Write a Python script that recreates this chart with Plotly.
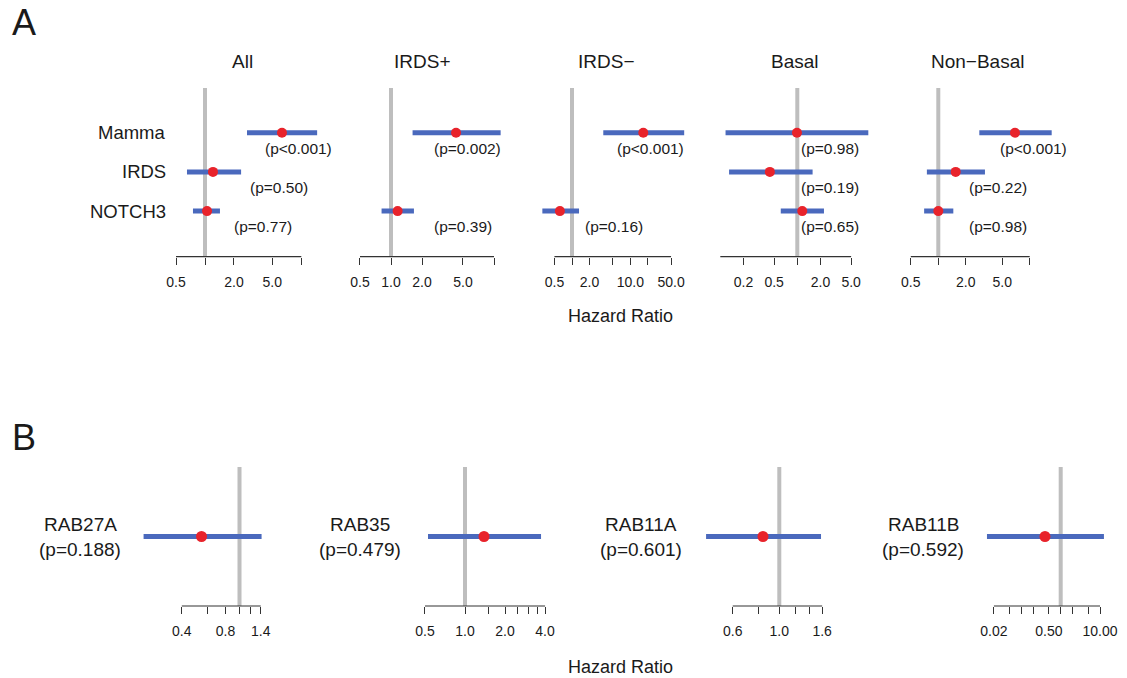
import math
import plotly.graph_objects as go

W, H = 1127, 678

# ---------------- data ----------------
titles_A = ["All", "IRDS+", "IRDS\u2212", "Basal", "Non\u2212Basal"]
genes_A = ["Mamma", "IRDS", "NOTCH3"]
hr_A = [[6.3, 1.21, 1.05], [4.28, None, 1.16], [16.7, None, 0.62], [0.99, 0.44, 1.16], [6.9, 1.55, 1.0]]
lo_A = [[2.73, 0.65, 0.75], [1.62, None, 0.81], [3.44, None, 0.31], [0.117, 0.13, 0.61], [2.81, 0.75, 0.70]]
hi_A = [[14.6, 2.37, 1.43], [11.6, None, 1.67], [84.0, None, 1.32], [8.36, 1.58, 2.22], [17.4, 3.24, 1.46]]
p_A = [["(p<0.001)", "(p=0.50)", "(p=0.77)"],
       ["(p=0.002)", None, "(p=0.39)"],
       ["(p<0.001)", None, "(p=0.16)"],
       ["(p=0.98)", "(p=0.19)", "(p=0.65)"],
       ["(p<0.001)", "(p=0.22)", "(p=0.98)"]]
ticks_A = [[0.5, 1, 2, 5, 10], [0.5, 1, 2, 5, 10], [0.5, 1, 2, 5, 10, 20, 50], [0.2, 0.5, 1, 2, 5], [0.5, 1, 2, 5, 10]]
ticktext_A = [["0.5", "", "2.0", "5.0", ""],
              ["0.5", "1.0", "2.0", "5.0", ""],
              ["0.5", "", "2.0", "", "10.0", "", "50.0"],
              ["0.2", "0.5", "", "2.0", "5.0"],
              ["0.5", "", "2.0", "5.0", ""]]

genes_B = ["RAB27A", "RAB35", "RAB11A", "RAB11B"]
hr_B = [0.547, 1.39, 0.836, 0.398]
lo_B = [0.218, 0.527, 0.448, 0.0133]
hi_B = [1.42, 3.73, 1.58, 12.6]
p_B = ["(p=0.188)", "(p=0.479)", "(p=0.601)", "(p=0.592)"]
ticks_B = [[0.4, 0.6, 0.8, 1.0, 1.2, 1.4],
           [0.5, 1.0, 1.5, 2.0, 2.5, 3.0, 3.5, 4.0],
           [0.6, 0.8, 1.0, 1.2, 1.4, 1.6],
           [0.02, 0.05, 0.1, 0.2, 0.5, 1, 2, 5, 10]]
ticktext_B = [["0.4", "", "0.8", "", "", "1.4"],
              ["0.5", "1.0", "", "2.0", "", "", "", "4.0"],
              ["0.6", "", "1.0", "", "", "1.6"],
              ["0.02", "", "", "", "0.50", "", "", "", "10.00"]]

# ---------------- layout constants (pixels) ----------------
# (pixel of HR=1, pixels per decade, domain left, domain right)
geom_A = [(205, 96.3, 170, 335), (391, 103, 350, 510), (572, 58.3, 530, 695),
          (797.3, 77, 715, 875), (938.3, 91.4, 900, 1060)]
geom_B = [(239.5, 145, 135, 270), (465, 133, 420, 555), (779.3, 210, 700, 830), (1060.7, 39.3, 980, 1110)]
axis_span_A = [(0.5, 10), (0.5, 10), (0.5, 50), (0.1, 5), (0.5, 10)]
pval_x_A = [[3.97, 2.80, 1.91], [2.48, None, 2.48], [5.47, None, 1.54], [1.05, 1.05, 1.05], [4.5, 2.06, 2.06]]
title_x_A = [242, 422, 606, 795, 977]
label_x_B = [80, 360, 641, 923]

A_top, A_axis = 88, 256.7
row0_px, row_step = 132.7, 39.2
B_top, B_axis = 467, 606

BLUE = "#4A69BD"
RED = "#E8232B"
GRAY = "#BEBEBE"
TXT = "#1a1a1a"
FONT = "Liberation Sans, Arial, Helvetica, sans-serif"


def px(x):
    return x / W


def py(y):
    return 1 - y / H


fig = go.Figure()
layout = dict(width=W, height=H, margin=dict(l=0, r=0, t=0, b=0, pad=0, autoexpand=False),
              autosize=False,
              paper_bgcolor="white", plot_bgcolor="white", showlegend=False,
              font=dict(family=FONT, color=TXT))
annotations = []
shapes = []


def add_axes(k, geom, ticks, ticktext, ytop, ybot, yrange):
    one, dec, d0, d1 = geom
    layout[f"xaxis{k}"] = dict(
        type="log", domain=[px(d0), px(d1)],
        range=[(d0 - one) / dec, (d1 - one) / dec],
        tickvals=ticks, ticktext=ticktext, ticks="outside", ticklen=7,
        tickwidth=1.1, tickcolor="#333", showline=False, showgrid=False,
        zeroline=False, tickfont=dict(size=14, color=TXT, family=FONT),
        ticklabelstandoff=5,
        anchor=f"y{k}", fixedrange=True, automargin=False)
    layout[f"yaxis{k}"] = dict(domain=[py(ybot), py(ytop)], range=yrange,
                               visible=False, anchor=f"x{k}", fixedrange=True, automargin=False)


# ---------- Panel A ----------
yr_top = 1 - (row0_px - A_top) / row_step
yr_bot = 1 + (A_axis - row0_px) / row_step
for i in range(5):
    k = i + 1
    add_axes(k, geom_A[i], ticks_A[i], ticktext_A[i], A_top, A_axis, [yr_bot, yr_top])
    xs, ys = [], []
    for j in range(3):
        if hr_A[i][j] is None:
            continue
        v = j + 1
        fig.add_trace(go.Scatter(x=[lo_A[i][j], hi_A[i][j]], y=[v, v], mode="lines",
                                 line=dict(color=BLUE, width=5), xaxis=f"x{k}", yaxis=f"y{k}",
                                 hoverinfo="skip"))
        xs.append(hr_A[i][j]); ys.append(v)
        annotations.append(dict(x=math.log10(pval_x_A[i][j]), y=v + 0.395, xref=f"x{k}", yref=f"y{k}",
                                text=p_A[i][j], showarrow=False, xanchor="left", yanchor="middle",
                                font=dict(size=15.5, color=TXT)))
    fig.add_trace(go.Scatter(x=xs, y=ys, mode="markers", marker=dict(color=RED, size=10),
                             xaxis=f"x{k}", yaxis=f"y{k}", cliponaxis=False))
    annotations.append(dict(x=px(title_x_A[i]), y=py(62), xref="paper", yref="paper", text=titles_A[i],
                            showarrow=False, xanchor="center", yanchor="middle", font=dict(size=19, color=TXT)))
    a0, a1 = axis_span_A[i]
    shapes.append(dict(type="line", xref=f"x{k}", yref="paper", x0=a0, x1=a1, y0=py(A_axis), y1=py(A_axis),
                       line=dict(color="#333", width=1.2)))
    shapes.append(dict(type="line", xref=f"x{k}", yref="paper", x0=1, x1=1, y0=py(A_top), y1=py(A_axis),
                       line=dict(color=GRAY, width=4), layer="below"))

for j, g in enumerate(genes_A):
    annotations.append(dict(x=px(168), y=j + 1, xref="paper", yref="y1", text=g, showarrow=False,
                            xanchor="right", yanchor="middle", font=dict(size=18.5, color=TXT)))

# ---------- Panel B ----------
for i in range(4):
    k = 6 + i
    add_axes(k, geom_B[i], ticks_B[i], ticktext_B[i], B_top, B_axis, [0, 2])
    fig.add_trace(go.Scatter(x=[lo_B[i], hi_B[i]], y=[1, 1], mode="lines",
                             line=dict(color=BLUE, width=5), xaxis=f"x{k}", yaxis=f"y{k}", hoverinfo="skip"))
    fig.add_trace(go.Scatter(x=[hr_B[i]], y=[1], mode="markers", marker=dict(color=RED, size=11),
                             xaxis=f"x{k}", yaxis=f"y{k}", cliponaxis=False))
    tks = ticks_B[i]
    shapes.append(dict(type="line", xref=f"x{k}", yref="paper", x0=tks[0], x1=tks[-1], y0=py(B_axis), y1=py(B_axis),
                       line=dict(color="#333", width=1.2)))
    shapes.append(dict(type="line", xref=f"x{k}", yref="paper", x0=1, x1=1, y0=py(B_top), y1=py(B_axis),
                       line=dict(color=GRAY, width=4), layer="below"))
    annotations.append(dict(x=px(label_x_B[i]), y=py(524), xref="paper", yref="paper", text=genes_B[i],
                            showarrow=False, xanchor="center", yanchor="middle", font=dict(size=19, color=TXT)))
    annotations.append(dict(x=px(label_x_B[i]), y=py(549), xref="paper", yref="paper", text=p_B[i],
                            showarrow=False, xanchor="center", yanchor="middle", font=dict(size=19, color=TXT)))

# ---------- shared labels ----------
for yy in (316, 667):
    annotations.append(dict(x=px(621), y=py(yy), xref="paper", yref="paper", text="Hazard Ratio",
                            showarrow=False, xanchor="center", yanchor="middle", font=dict(size=18, color=TXT)))
annotations.append(dict(x=px(10), y=py(22), xref="paper", yref="paper", text="A", showarrow=False,
                        xanchor="left", yanchor="middle", font=dict(size=36, color=TXT)))
annotations.append(dict(x=px(10), y=py(437), xref="paper", yref="paper", text="B", showarrow=False,
                        xanchor="left", yanchor="middle", font=dict(size=36, color=TXT)))

layout["annotations"] = annotations
layout["shapes"] = shapes
fig.update_layout(**layout)
fig.write_html("out.html", config={"responsive": False, "displayModeBar": False},
               post_script="document.body.style.margin='0';document.body.style.overflow='hidden';")
